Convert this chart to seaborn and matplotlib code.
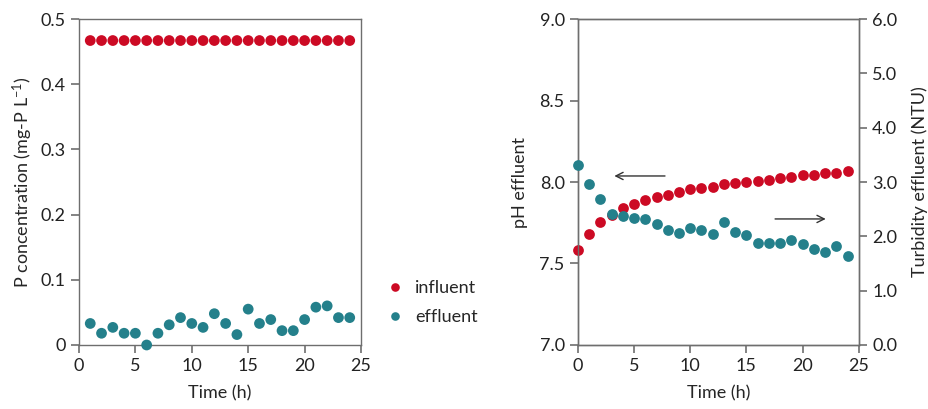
import numpy as np
import pandas as pd
import seaborn as sns
import matplotlib.pyplot as plt
from matplotlib.ticker import FuncFormatter

# ---- data ----
hours_p = list(range(1, 25))
p_influent = [0.467] * 24
p_effluent = [0.033, 0.018, 0.027, 0.018, 0.018, 0.0, 0.018, 0.031, 0.042, 0.033,
              0.027, 0.048, 0.033, 0.016, 0.055, 0.033, 0.039, 0.022, 0.022, 0.039,
              0.058, 0.060, 0.042, 0.042]

hours_ph = list(range(0, 25))
ph_effluent = [7.58, 7.68, 7.755, 7.80, 7.84, 7.863, 7.89, 7.906, 7.92, 7.941,
               7.955, 7.961, 7.971, 7.986, 7.994, 8.0, 8.006, 8.012, 8.023, 8.031,
               8.041, 8.045, 8.053, 8.057, 8.07]
turbidity = [3.31, 2.97, 2.68, 2.42, 2.37, 2.34, 2.31, 2.22, 2.12, 2.07,
             2.16, 2.11, 2.04, 2.26, 2.08, 2.02, 1.87, 1.87, 1.88, 1.93,
             1.86, 1.76, 1.72, 1.83, 1.63]

red = "#CC0A24"
teal = "#24808B"
spine_col = "#6e6e6e"

sns.set_style("ticks")
plt.rcParams['font.family'] = ['Lato', 'DejaVu Sans']
plt.rcParams['mathtext.fontset'] = 'custom'
plt.rcParams['mathtext.rm'] = 'Lato'
plt.rcParams['mathtext.it'] = 'Lato'
plt.rcParams['font.size'] = 13

fig = plt.figure(figsize=(9.29, 4.09), dpi=100)
ax1 = fig.add_axes([0.085, 0.1565, 0.3036, 0.797])
ax2 = fig.add_axes([0.622, 0.1565, 0.3025, 0.797])
ax3 = ax2.twinx()


def style_axis(ax):
    for s in ax.spines.values():
        s.set_visible(True)
        s.set_color(spine_col)
        s.set_linewidth(1.0)
    ax.tick_params(direction='out', length=6, width=1.2, color=spine_col,
                   labelsize=13, labelcolor='#222222')


# left panel: P concentration
df_p = pd.DataFrame({'Time': hours_p * 2,
                     'P': p_influent + p_effluent,
                     'stream': ['influent'] * 24 + ['effluent'] * 24})
sns.scatterplot(data=df_p, x='Time', y='P', hue='stream',
                palette={'influent': red, 'effluent': teal},
                s=60, linewidth=0, ax=ax1, zorder=3, clip_on=False)
ax1.set_xlim(0, 25)
ax1.set_ylim(0, 0.5)
ax1.set_xticks(range(0, 26, 5))
ax1.set_yticks([0, 0.1, 0.2, 0.3, 0.4, 0.5])
ax1.yaxis.set_major_formatter(FuncFormatter(lambda v, p: '0' if v == 0 else f'{v:.1f}'))
ax1.set_xlabel('Time (h)', fontsize=13, labelpad=8)
ax1.set_ylabel(r'P concentration (mg-P L$^{\mathregular{-1}}$)', fontsize=13)
style_axis(ax1)
ax1.tick_params(bottom=True, left=True, top=False, right=False)
leg = ax1.legend(loc='center left', bbox_to_anchor=(1.0, 0.13), frameon=False,
                 handletextpad=0.1, labelspacing=0.7, fontsize=13, markerscale=0.8)

# right panel: pH and turbidity
sns.scatterplot(x=hours_ph, y=ph_effluent, color=red, s=60, linewidth=0,
                ax=ax2, zorder=3, clip_on=False)
sns.scatterplot(x=hours_ph, y=turbidity, color=teal, s=60, linewidth=0,
                ax=ax3, zorder=3, clip_on=False)
ax2.set_xlim(0, 25)
ax2.set_ylim(7.0, 9.0)
ax2.set_xticks(range(0, 26, 5))
ax2.set_yticks([7.0, 7.5, 8.0, 8.5, 9.0])
ax2.yaxis.set_major_formatter(FuncFormatter(lambda v, p: f'{v:.1f}'))
ax3.set_ylim(0, 6)
ax3.set_yticks([0, 1, 2, 3, 4, 5, 6])
ax3.yaxis.set_major_formatter(FuncFormatter(lambda v, p: f'{v:.1f}'))
ax2.set_xlabel('Time (h)', fontsize=13, labelpad=8)
ax2.set_ylabel('pH effluent', fontsize=13, labelpad=8)
ax3.set_ylabel('Turbidity effluent (NTU)', fontsize=13, labelpad=10)
style_axis(ax2)
style_axis(ax3)
ax2.tick_params(bottom=True, left=True, top=False, right=False)
ax3.tick_params(axis='y', right=True, left=False)

# arrows pointing to the axis each series belongs to
ax2.annotate('', xy=(3.0, 8.037), xytext=(8.0, 8.037),
             arrowprops=dict(arrowstyle='->', color='#333333', lw=1.0))
ax3.annotate('', xy=(22.3, 2.32), xytext=(17.3, 2.32),
             arrowprops=dict(arrowstyle='->', color='#333333', lw=1.0))

fig.savefig('out.png', dpi=100)
